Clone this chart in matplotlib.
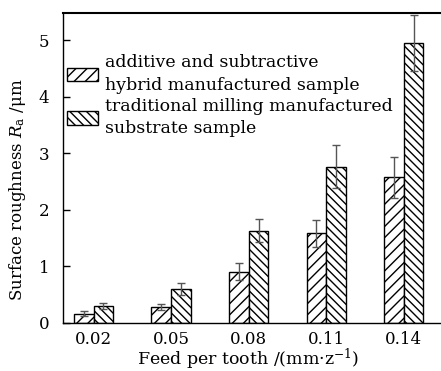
import matplotlib
matplotlib.use("Agg")
import matplotlib.pyplot as plt
import numpy as np

categories = ["0.02", "0.05", "0.08", "0.11", "0.14"]
hybrid = [0.16, 0.28, 0.90, 1.58, 2.57]
hybrid_err = [0.04, 0.06, 0.15, 0.24, 0.36]
milling = [0.30, 0.60, 1.63, 2.76, 4.95]
milling_err = [0.05, 0.11, 0.21, 0.38, 0.50]
labels = ["additive and subtractive\nhybrid manufactured sample",
          "traditional milling manufactured\nsubstrate sample"]

plt.rcParams['font.family'] = ['DejaVu Serif']
plt.rcParams['mathtext.fontset'] = 'dejavuserif'
plt.rcParams['hatch.linewidth'] = 1.0

fig = plt.figure(figsize=(4.41, 3.71), dpi=100)
ax = fig.add_axes([0.143, 0.130, 0.857, 0.835])

x = np.arange(len(categories))
w = 0.254
ax.bar(x - w/2, hybrid, w, yerr=hybrid_err, color='white', edgecolor='black',
       linewidth=1.0, hatch='///', label=labels[0],
       error_kw=dict(ecolor='#555555', elinewidth=1.0, capsize=3, capthick=1.0))
ax.bar(x + w/2, milling, w, yerr=milling_err, color='white', edgecolor='black',
       linewidth=1.0, hatch='\\\\\\\\', label=labels[1],
       error_kw=dict(ecolor='#555555', elinewidth=1.0, capsize=3, capthick=1.0))

ax.set_xlim(-0.394, 4.48)
ax.set_ylim(0, 5.48)
ax.set_xticks(x)
ax.set_xticklabels(categories, fontsize=12)
ax.set_yticks([0, 1, 2, 3, 4, 5])
ax.set_yticklabels(["0", "1", "2", "3", "4", "5"], fontsize=12)
ax.tick_params(axis='x', length=0, pad=6)
ax.tick_params(axis='y', direction='in', length=5, width=1, pad=10)
ax.spines['right'].set_visible(False)
ax.spines['top'].set_linewidth(1.5)
ax.spines['left'].set_linewidth(1.0)
ax.spines['bottom'].set_linewidth(1.0)

ax.set_xlabel("Feed per tooth /(mm·z$^{-1}$)", fontsize=12.5)
ax.xaxis.set_label_coords(0.489, -0.078)
ax.set_ylabel("Surface roughness $R_{\\rm a}$ /μm", fontsize=12)
ax.yaxis.set_label_coords(-0.092, 0.428)

leg = ax.legend(loc='upper left', bbox_to_anchor=(-0.018, 0.90), frameon=False,
                fontsize=12.5, handlelength=1.8, handleheight=0.85,
                handletextpad=0.4, labelspacing=0.25, borderaxespad=0.2)
for t in leg.get_texts():
    t.set_linespacing(1.4)

fig.savefig("out.png", dpi=100)
